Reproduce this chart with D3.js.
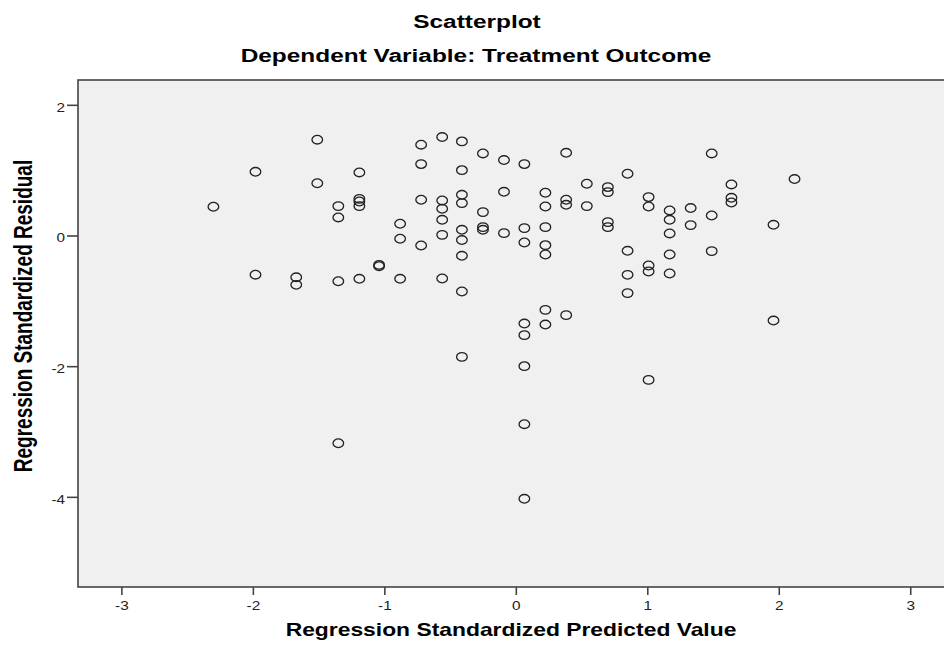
<!DOCTYPE html>
<html>
<head>
<meta charset="utf-8">
<script src="https://cdn.jsdelivr.net/npm/d3@7"></script>
<style>
  body { margin: 0; background: #fff; }
  svg { display: block; font-family: "Liberation Sans", Arial, sans-serif; }
</style>
</head>
<body>
<div id="chart"></div>
<script>
// regression standardized predicted value / residual, read column by column
var predicted = [
  -2.30,
  -1.98, -1.98,
  -1.67, -1.67,
  -1.51, -1.51,
  -1.35, -1.35, -1.35, -1.35,
  -1.19, -1.19, -1.19, -1.19, -1.19,
  -1.04, -1.04,
  -0.88, -0.88, -0.88,
  -0.72, -0.72, -0.72, -0.72,
  -0.56, -0.56, -0.56, -0.56, -0.56, -0.56,
  -0.41, -0.41, -0.41, -0.41, -0.41, -0.41, -0.41, -0.41, -0.41,
  -0.25, -0.25, -0.25, -0.25,
  -0.09, -0.09, -0.09,
  0.065, 0.065, 0.065, 0.065, 0.065, 0.065, 0.065, 0.065,
  0.225, 0.225, 0.225, 0.225, 0.225, 0.225, 0.225,
  0.383, 0.383, 0.383, 0.383,
  0.54, 0.54,
  0.70, 0.70, 0.70, 0.70,
  0.85, 0.85, 0.85, 0.85,
  1.01, 1.01, 1.01, 1.01, 1.01,
  1.17, 1.17, 1.17, 1.17, 1.17,
  1.33, 1.33,
  1.49, 1.49, 1.49,
  1.64, 1.64, 1.64,
  1.96, 1.96,
  2.12
];
var residual = [
  0.44,
  0.975, -0.60,
  -0.64, -0.755,
  1.466, 0.80,
  0.45, 0.276, -0.70, -3.18,
  0.965, 0.56, 0.52, 0.45, -0.663,
  -0.45, -0.47,
  0.18, -0.05, -0.663,
  1.39, 1.093, 0.547, -0.153,
  1.507, 0.536, 0.409, 0.24, 0.01, -0.658,
  1.44, 1.00, 0.623, 0.496, 0.087, -0.07, -0.311, -0.857, -1.858,
  1.256, 0.358, 0.128, 0.087,
  1.155, 0.669, 0.036,
  1.093, 0.113, -0.107, -1.348, -1.525, -2.0, -2.888, -4.03,
  0.654, 0.444, 0.128, -0.148, -0.291, -1.138, -1.363,
  1.266, 0.547, 0.47, -1.219,
  0.792, 0.45,
  0.741, 0.664, 0.205, 0.128,
  0.945, -0.234, -0.602, -0.882,
  0.588, 0.444, -0.459, -0.551, -2.21,
  0.383, 0.24, 0.031, -0.291, -0.582,
  0.42, 0.159,
  1.256, 0.306, -0.239,
  0.781, 0.577, 0.505,
  0.164, -1.302,
  0.864
];
var xTicks = [-3, -2, -1, 0, 1, 2, 3];
var yTicks = [2, 0, -2, -4];

var width = 944, height = 654;
var plot = {left: 78, top: 80, right: 951, bottom: 587};
var stretch = 1.32;   // the original picture is wider than tall

var x = d3.scaleLinear().domain([-3.33, 3.31]).range([plot.left, plot.right]);
var y = d3.scaleLinear().domain([-5.38, 2.38]).range([plot.bottom, plot.top]);

var svg = d3.select("#chart").append("svg")
    .attr("width", width)
    .attr("height", height);

svg.append("rect")
    .attr("x", plot.left)
    .attr("y", plot.top)
    .attr("width", plot.right - plot.left)
    .attr("height", plot.bottom - plot.top)
    .attr("fill", "#f0f0f0")
    .attr("stroke", "#444")
    .attr("stroke-width", 1.6);

// axes
var fmt = function(d) { return String(d); };  // plain hyphen, not unicode minus
var xAxis = svg.append("g")
    .attr("transform", "translate(0," + plot.bottom + ")")
    .call(d3.axisBottom(x).tickValues(xTicks).tickSize(8).tickPadding(6).tickFormat(fmt));
var yAxis = svg.append("g")
    .attr("transform", "translate(" + plot.left + ",0)")
    .call(d3.axisLeft(y).tickValues(yTicks).tickSize(11).tickPadding(0).tickFormat(fmt));

[xAxis, yAxis].forEach(function(g) {
  g.select(".domain").remove();
  g.selectAll(".tick line").attr("stroke", "#444").attr("stroke-width", 1.6);
  g.selectAll(".tick text")
    .attr("fill", "#222")
    .attr("transform", "scale(1.18,1)")
    .style("font-size", "13px")
    .style("font-family", "'Liberation Sans', Arial, sans-serif");
});
yAxis.selectAll(".tick text").attr("dy", "0.5em");

// points
svg.append("g")
  .selectAll("ellipse")
  .data(predicted.map(function(p, i) { return {p: p, r: residual[i]}; }))
  .enter().append("ellipse")
    .attr("cx", function(d) { return x(d.p); })
    .attr("cy", function(d) { return y(d.r); })
    .attr("rx", 5.3)
    .attr("ry", 4.3)
    .attr("fill", "none")
    .attr("stroke", "#222")
    .attr("stroke-width", 1.3);

// titles
svg.append("text")
    .attr("transform", "translate(477,28) scale(" + stretch + ",1)")
    .attr("text-anchor", "middle")
    .style("font-size", "18.5px").style("font-weight", "bold")
    .text("Scatterplot");
svg.append("text")
    .attr("transform", "translate(476,62) scale(" + stretch + ",1)")
    .attr("text-anchor", "middle")
    .style("font-size", "18.5px").style("font-weight", "bold")
    .text("Dependent Variable: Treatment Outcome");
svg.append("text")
    .attr("transform", "translate(511,636) scale(1.27,1)")
    .attr("text-anchor", "middle")
    .style("font-size", "18px").style("font-weight", "bold")
    .text("Regression Standardized Predicted Value");
svg.append("text")
    .attr("transform", "translate(32,316) rotate(-90) scale(1," + stretch + ")")
    .attr("text-anchor", "middle")
    .style("font-size", "19px").style("font-weight", "bold")
    .text("Regression Standardized Residual");
</script>
</body>
</html>
